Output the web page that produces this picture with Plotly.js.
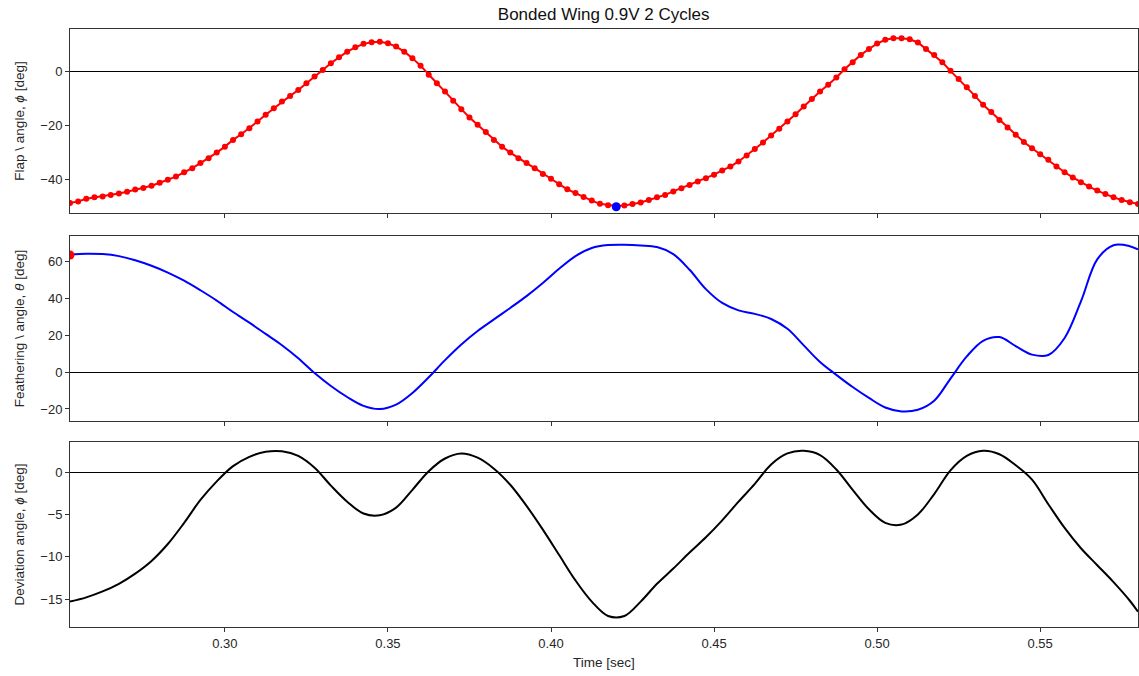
<!DOCTYPE html>
<html>
<head>
<meta charset="utf-8">
<script src="https://cdn.plot.ly/plotly-3.0.1.min.js"></script>
<style>html,body{margin:0;padding:0;background:#fff;}#chart{width:1139px;height:676px;}</style>
</head>
<body>
<div id="chart"></div>
<script>
// ---- Data ----
const chartTitle = "Bonded Wing 0.9V 2 Cycles";

// Flap angle samples (400 Hz) from t = 0.2525 s to 0.58 s
const timeFlap = [
0.2525,0.2550,0.2575,0.2600,0.2625,0.2650,0.2675,0.2700,0.2725,0.2750,
0.2775,0.2800,0.2825,0.2850,0.2875,0.2900,0.2925,0.2950,0.2975,0.3000,
0.3025,0.3050,0.3075,0.3100,0.3125,0.3150,0.3175,0.3200,0.3225,0.3250,
0.3275,0.3300,0.3325,0.3350,0.3375,0.3400,0.3425,0.3450,0.3475,0.3500,
0.3525,0.3550,0.3575,0.3600,0.3625,0.3650,0.3675,0.3700,0.3725,0.3750,
0.3775,0.3800,0.3825,0.3850,0.3875,0.3900,0.3925,0.3950,0.3975,0.4000,
0.4025,0.4050,0.4075,0.4100,0.4125,0.4150,0.4175,0.4200,0.4225,0.4250,
0.4275,0.4300,0.4325,0.4350,0.4375,0.4400,0.4425,0.4450,0.4475,0.4500,
0.4525,0.4550,0.4575,0.4600,0.4625,0.4650,0.4675,0.4700,0.4725,0.4750,
0.4775,0.4800,0.4825,0.4850,0.4875,0.4900,0.4925,0.4950,0.4975,0.5000,
0.5025,0.5050,0.5075,0.5100,0.5125,0.5150,0.5175,0.5200,0.5225,0.5250,
0.5275,0.5300,0.5325,0.5350,0.5375,0.5400,0.5425,0.5450,0.5475,0.5500,
0.5525,0.5550,0.5575,0.5600,0.5625,0.5650,0.5675,0.5700,0.5725,0.5750,
0.5775,0.5800];
const flapAngle = [
-48.6,-48.0,-47.0,-46.5,-46.2,-45.6,-45.1,-44.4,-43.6,-43.0,
-42.2,-41.1,-40.0,-38.8,-37.2,-35.7,-33.8,-32.0,-29.9,-27.7,
-25.2,-23.1,-20.9,-18.4,-15.9,-13.5,-11.0,-8.9,-6.7,-4.2,
-1.7,0.7,3.2,5.4,7.5,9.1,10.4,11.0,11.2,10.6,
9.4,7.5,5.1,2.3,-1.1,-4.2,-7.3,-10.7,-13.8,-16.9,
-19.6,-22.3,-25.2,-27.7,-29.9,-32.0,-33.8,-35.7,-37.8,-39.6,
-41.6,-43.5,-44.9,-46.4,-47.7,-48.9,-49.4,-49.7,-49.5,-49.0,
-48.4,-47.5,-46.5,-45.6,-44.3,-43.1,-41.9,-40.6,-39.4,-38.1,
-36.5,-35.1,-33.2,-31.0,-28.6,-26.2,-23.6,-21.1,-18.4,-15.7,
-12.8,-10.0,-7.3,-4.8,-2.1,1.0,3.6,6.3,8.5,10.5,
11.9,12.5,12.5,12.1,10.9,8.5,6.3,3.6,0.4,-2.6,
-5.7,-8.9,-12.2,-14.9,-17.8,-20.6,-23.3,-26.0,-28.3,-30.5,
-32.6,-35.1,-37.2,-39.1,-40.9,-42.5,-44.0,-45.3,-46.5,-47.5,
-48.3,-49.0];

// Feathering and deviation angles read every 5 ms
const timeCoarse = [
0.2525,0.2575,0.2625,0.2675,0.2725,0.2775,0.2825,0.2875,0.2925,0.2975,
0.3025,0.3075,0.3125,0.3175,0.3225,0.3275,0.3325,0.3375,0.3425,0.3475,
0.3525,0.3575,0.3625,0.3675,0.3725,0.3775,0.3825,0.3875,0.3925,0.3975,
0.4025,0.4075,0.4125,0.4175,0.4225,0.4275,0.4325,0.4375,0.4425,0.4475,
0.4525,0.4575,0.4625,0.4675,0.4725,0.4775,0.4825,0.4875,0.4925,0.4975,
0.5025,0.5075,0.5125,0.5175,0.5225,0.5275,0.5325,0.5375,0.5425,0.5475,
0.5525,0.5575,0.5625,0.5675,0.5725,0.5775,0.5800];
const featherAngle = [
63.8,64.2,64.0,62.9,60.7,57.7,54.0,49.6,44.4,38.8,
32.6,26.8,20.7,14.6,7.5,-0.5,-7.5,-13.5,-18.3,-20.0,
-17.6,-11.3,-2.8,6.5,15.0,22.3,28.6,34.8,41.2,48.3,
56.0,62.9,67.3,68.9,69.1,68.7,67.8,64.0,55.5,45.0,
37.5,33.5,31.6,28.8,23.5,14.5,5.5,-1.5,-8.1,-14.0,
-19.2,-21.3,-20.4,-15.5,-3.5,8.5,17.0,19.0,14.1,9.5,
9.3,18.5,38.3,61.1,68.8,68.3,66.5];
const deviationAngle = [
-15.3,-14.8,-14.1,-13.2,-12.0,-10.5,-8.5,-6.0,-3.3,-1.1,
0.7,1.8,2.4,2.45,1.9,0.5,-1.6,-3.5,-4.9,-5.1,
-4.2,-2.1,0.1,1.6,2.2,1.7,0.4,-1.5,-4.0,-6.8,
-9.8,-12.8,-15.3,-17.0,-17.0,-15.3,-13.2,-11.4,-9.5,-7.7,
-5.7,-3.5,-1.4,0.9,2.2,2.5,2.0,0.3,-2.1,-4.4,
-6.0,-6.2,-5.0,-2.6,0.2,1.9,2.5,2.1,0.8,-0.9,
-3.8,-6.6,-9.0,-11.0,-13.0,-15.2,-16.5];

// Highlighted points
const flapMarkT = [0.42];
const flapMarkV = [-50.0];
const featherMarkT = [0.2525];
const featherMarkV = [63.5];

// Axis texts
const xTitle = "Time [sec]";
const yTitle1 = "Flap \\ angle, <i>ϕ</i> [deg]";
const yTitle2 = "Feathering \\ angle, <i>θ</i> [deg]";
const yTitle3 = "Deviation angle, <i>ϕ</i> [deg]";
const xTicks = [0.30, 0.35, 0.40, 0.45, 0.50, 0.55];
const yTicks1 = [-40, -20, 0];
const yTicks2 = [-20, 0, 20, 40, 60];
const yTicks3 = [-15, -10, -5, 0];

// ---- Traces ----
const traces = [
  {x: timeFlap, y: flapAngle, xaxis: 'x', yaxis: 'y', type: 'scatter', mode: 'lines+markers',
   line: {color: '#ff0000', width: 2}, marker: {color: '#ff0000', size: 6}},
  {x: flapMarkT, y: flapMarkV, xaxis: 'x', yaxis: 'y', type: 'scatter', mode: 'markers',
   marker: {color: '#0000ff', size: 9}},
  {x: timeCoarse, y: featherAngle, xaxis: 'x2', yaxis: 'y2', type: 'scatter', mode: 'lines',
   line: {color: '#0000ff', width: 2, shape: 'spline', smoothing: 1}},
  {x: featherMarkT, y: featherMarkV, xaxis: 'x2', yaxis: 'y2', type: 'scatter', mode: 'markers',
   marker: {color: '#ff0000', size: 9}},
  {x: timeCoarse, y: deviationAngle, xaxis: 'x3', yaxis: 'y3', type: 'scatter', mode: 'lines',
   line: {color: '#000000', width: 2, shape: 'spline', smoothing: 1}}
];

const fam = 'Liberation Sans, Arial, sans-serif';
const tickFont = {family: fam, size: 13, color: '#262626'};
const labelFont = {family: fam, size: 13.5, color: '#262626'};
const xRange = [0.2525, 0.58];

function xAxis(anchor, showLabels) {
  return {
    anchor: anchor, range: xRange, tickvals: xTicks, ticktext: xTicks.map(v => v.toFixed(2)),
    showticklabels: showLabels, ticks: 'outside', ticklen: 4, tickwidth: 1, tickcolor: '#333',
    showline: true, mirror: true, linecolor: '#333', linewidth: 1,
    showgrid: false, zeroline: false, tickfont: tickFont
  };
}
function yAxis(anchor, domain, range, ticks, title) {
  return {
    anchor: anchor, domain: domain, range: range, tickvals: ticks,
    ticks: 'outside', ticklen: 4, tickwidth: 1, tickcolor: '#333',
    showline: true, mirror: true, linecolor: '#333', linewidth: 1,
    showgrid: false, zeroline: true, zerolinecolor: '#000', zerolinewidth: 1,
    tickfont: tickFont, title: {text: title, font: labelFont, standoff: 12}
  };
}

const layout = {
  width: 1139, height: 676,
  margin: {l: 70, r: 1, t: 29, b: 49},
  paper_bgcolor: '#fff', plot_bgcolor: '#fff',
  showlegend: false, font: tickFont,
  title: {text: chartTitle, font: {family: fam, size: 17, color: '#111'},
          x: 0.53, xanchor: 'center', y: 0.979, yanchor: 'middle'},
  xaxis: xAxis('y', false),
  xaxis2: xAxis('y2', false),
  xaxis3: Object.assign(xAxis('y3', true), {title: {text: xTitle, font: labelFont, standoff: 7}}),
  yaxis: yAxis('x', [0.6923, 1], [-52.3, 15.9], yTicks1, yTitle1),
  yaxis2: yAxis('x2', [0.3445, 0.6538], [-26.5, 73.8], yTicks2, yTitle2),
  yaxis3: yAxis('x3', [0, 0.3094], [-18.3, 3.55], yTicks3, yTitle3)
};

Plotly.newPlot('chart', traces, layout, {staticPlot: true, displayModeBar: false});
</script>
</body>
</html>
